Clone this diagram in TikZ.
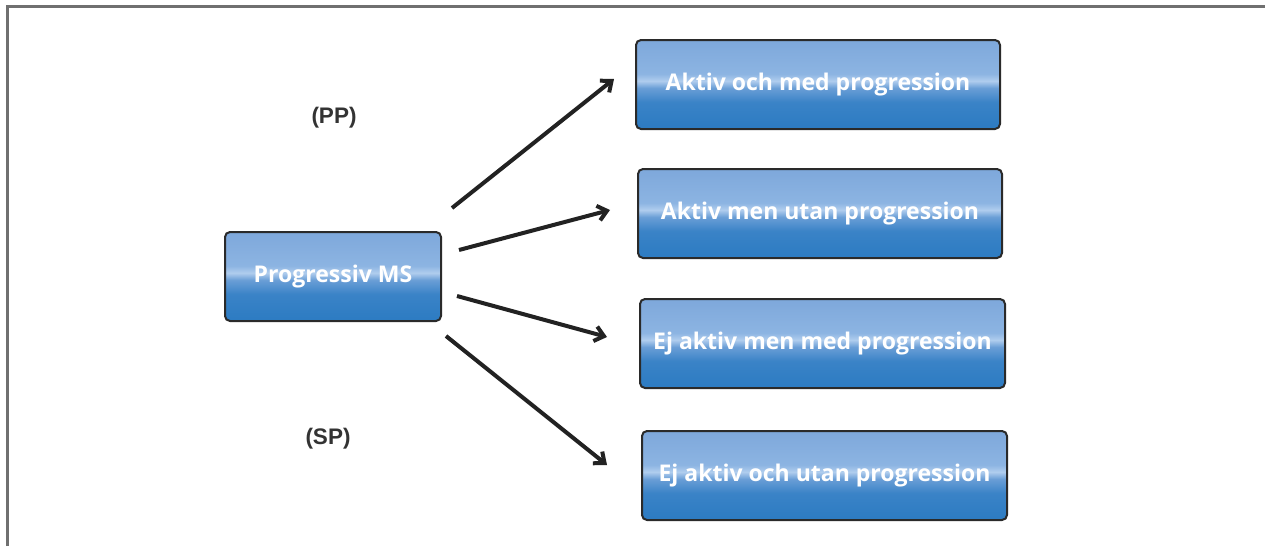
\documentclass[tikz,border=0pt]{standalone}
\usepackage{fontspec}
\setmainfont{Liberation Sans}
\newfontfamily\boxfont{Open Sans}
\usetikzlibrary{arrows.meta}
\definecolor{bxtop}{HTML}{7EA8DB}
\definecolor{bxup}{HTML}{8CB4E2}
\definecolor{bxhi}{HTML}{B0CDEE}
\definecolor{bxmid}{HTML}{6A9ED6}
\definecolor{bxlow}{HTML}{3A83C7}
\definecolor{bxbot}{HTML}{2C7BC2}
\definecolor{bxline}{HTML}{2A2A2A}
\definecolor{arrcol}{HTML}{222222}
\definecolor{labcol}{HTML}{333333}
\definecolor{framecol}{HTML}{707070}
\pgfdeclareverticalshading{boxshade}{100bp}{color(0bp)=(bxbot); color(25bp)=(bxbot); color(40bp)=(bxlow); color(48bp)=(bxmid); color(52bp)=(bxhi); color(56bp)=(bxup); color(75bp)=(bxtop); color(100bp)=(bxtop)}
\tikzset{
  stagebox/.style={draw=bxline, line width=2pt, rounded corners=5pt, shading=boxshade,
    minimum height=89pt, inner sep=0pt, text=white,
    font=\boxfont\bfseries\fontsize{23}{27}\selectfont},
  arr/.style={draw=arrcol, line width=4pt, -{Straight Barb[length=9pt,width=15pt,line width=4pt]}},
  lab/.style={text=labcol, font=\bfseries\fontsize{22.5}{26}\selectfont, inner sep=0pt}
}
\begin{document}
\begin{tikzpicture}[x=1pt,y=-1pt]
\useasboundingbox (0,0) rectangle (1265,546);
\fill[white] (0,0) rectangle (1265,546);
\draw[framecol, line width=3pt] (7,546) -- (7,6) -- (1265,6);
\node[stagebox, minimum width=216pt] (pms) at (333,276.5) {Progressiv MS};
\node[stagebox, minimum width=364pt] (b1) at (818,84.5) {Aktiv och med progression};
\node[stagebox, minimum width=364pt] (b2) at (820,213.5) {Aktiv men utan progression};
\node[stagebox, minimum width=365pt] (b3) at (822.5,343.5) {Ej aktiv men med progression};
\node[stagebox, minimum width=365pt] (b4) at (824.5,475.5) {Ej aktiv och utan progression};
\node[lab] (pp) at (334,118) {(PP)};
\node[lab] (sp) at (328,439) {(SP)};
\coordinate (s1) at (452,208);
\coordinate (e1) at (614,79);
\coordinate (s2) at (459,250);
\coordinate (e2) at (610,210);
\coordinate (s3) at (457,296);
\coordinate (e3) at (607,337);
\coordinate (s4) at (446,336);
\coordinate (e4) at (607,465);
\draw[arr] (s1) -- (e1);
\draw[arr] (s2) -- (e2);
\draw[arr] (s3) -- (e3);
\draw[arr] (s4) -- (e4);
\end{tikzpicture}
\end{document}
